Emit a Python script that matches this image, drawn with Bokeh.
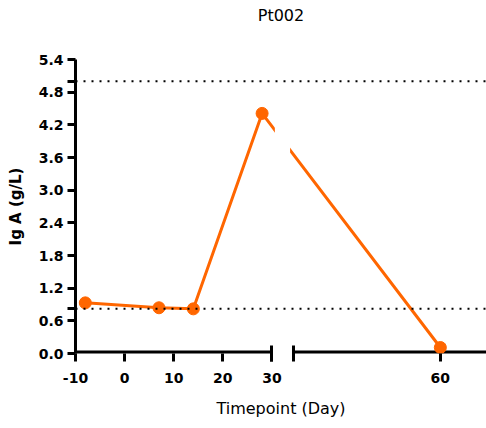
from bokeh.plotting import figure
from bokeh.models import FixedTicker, PrintfTickFormatter, Span, BoxAnnotation, Title
from bokeh.embed import file_html
from bokeh.resources import INLINE

# Data
days = [-8, 7, 14, 28, 60]
iga = [0.93, 0.84, 0.82, 4.41, 0.11]
ref_lines = [5.0, 0.82]
y_ticks = [0.0, 0.6, 1.2, 1.8, 2.4, 3.0, 3.6, 4.2, 4.8, 5.4]
x_ticks_left = [-10, 0, 10, 20, 30]
x_ticks_right = [60]
X_START, X_END = -10, 73.7
BREAK_AT = 30
GAP = 4.3  # width of the axis break in axis units
TITLE = "Pt002"

ORANGE = "#FF6600"

def disp(x):
    return x if x <= BREAK_AT else x + GAP

xd = [disp(x) for x in days]

p = figure(width=486, height=426, x_range=(X_START, X_END), y_range=(0, 5.4),
           output_backend="svg", toolbar_location=None, title=None,
           min_border_left=75, min_border_right=0, min_border_top=59,
           min_border_bottom=73)
p.outline_line_color = None
p.grid.visible = False

# spacer (nearest the frame) then the real title above it
p.add_layout(Title(text=" ", text_font_size="16px", standoff=12,
                   text_font="DejaVu Sans"), "above")
p.add_layout(Title(text=TITLE, align="center", vertical_align="top",
                   text_font="DejaVu Sans", text_font_style="normal",
                   text_font_size="16px", text_color="black", standoff=0),
             "above")

# y axis
ya = p.yaxis[0]
ya.ticker = FixedTicker(ticks=y_ticks, minor_ticks=ref_lines)
ya.formatter = PrintfTickFormatter(format="%.1f")
ya.axis_line_width = 3
ya.major_tick_line_width = 3
ya.minor_tick_line_width = 3
ya.major_tick_in = 0
ya.major_tick_out = 8
ya.minor_tick_in = 0
ya.minor_tick_out = 8
ya.major_label_standoff = 4
ya.major_label_text_font = "DejaVu Sans"
ya.major_label_text_font_style = "bold"
ya.major_label_text_font_size = "14px"
ya.major_label_text_color = "black"
ya.axis_label = "Ig A (g/L)"
ya.axis_label_text_font = "DejaVu Sans"
ya.axis_label_text_font_style = "bold"
ya.axis_label_text_font_size = "15px"
ya.axis_label_text_color = "black"
ya.axis_label_standoff = 11

# x axis (broken)
xa = p.xaxis[0]
right_disp = [disp(v) for v in x_ticks_right]
xa.ticker = FixedTicker(ticks=x_ticks_left + right_disp,
                        minor_ticks=[BREAK_AT, BREAK_AT + GAP])
overrides = {v: str(v) for v in x_ticks_left}
overrides.update({d: str(v) for d, v in zip(right_disp, x_ticks_right)})
xa.major_label_overrides = overrides
xa.axis_line_color = None
xa.major_tick_line_width = 3
xa.minor_tick_line_width = 3
xa.major_tick_in = 0
xa.major_tick_out = 8
xa.minor_tick_in = 8
xa.minor_tick_out = 8
xa.major_label_standoff = 11
xa.major_label_text_font = "DejaVu Sans"
xa.major_label_text_font_style = "bold"
xa.major_label_text_font_size = "14px"
xa.major_label_text_color = "black"
xa.axis_label = "Timepoint (Day)"
xa.axis_label_text_font = "DejaVu Sans"
xa.axis_label_text_font_style = "normal"
xa.axis_label_text_font_size = "16px"
xa.axis_label_text_color = "black"
xa.axis_label_standoff = 13

# x axis line, drawn in two pieces around the break (half is clipped by frame)
p.segment(x0=[X_START, BREAK_AT + GAP], y0=[0, 0], x1=[BREAK_AT, X_END], y1=[0, 0],
          line_color="black", line_width=6)

# data
p.line(xd, iga, line_color=ORANGE, line_width=3)
p.scatter(xd, iga, size=12, color=ORANGE)

# axis break gap in the data line
p.add_layout(BoxAnnotation(left=BREAK_AT + 0.6, right=BREAK_AT + GAP - 0.6,
                           bottom=0.2, top=5.4, fill_color="white",
                           fill_alpha=1.0, line_color=None))

for yv in ref_lines:
    p.add_layout(Span(location=yv, dimension="width", line_color="black",
                      line_width=2, line_dash="2 6"))

open("out.html", "w").write(file_html(p, INLINE))
